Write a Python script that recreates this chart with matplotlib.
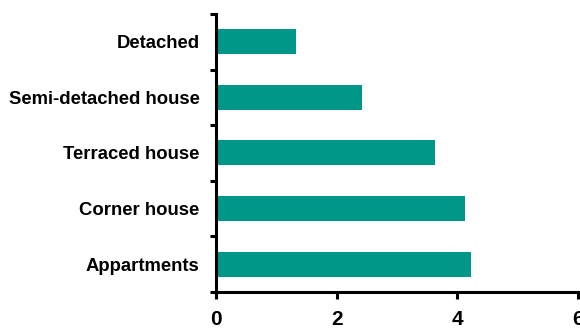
import numpy as np
import matplotlib.pyplot as plt

categories = ["Appartments", "Corner house", "Terraced house",
              "Semi-detached house", "Detached"]
values = [4.23, 4.13, 3.63, 2.42, 1.32]
x_ticks = [0, 2, 4, 6]

plt.rcParams['font.family'] = ['Liberation Sans', 'DejaVu Sans']
plt.rcParams['font.weight'] = 'bold'

fig = plt.figure(figsize=(5.8, 3.29), dpi=100)
ax = fig.add_axes([0.373, 0.1125, 0.6236, 0.845])

pos = np.arange(len(categories))
ax.barh(pos, values, height=0.45, color="#009688", zorder=2)

ax.set_xlim(0, 6)
ax.set_ylim(-0.5, len(categories) - 0.5)

# category labels at bar centres, tick marks between categories
ax.set_yticks(pos)
ax.set_yticklabels(categories, fontsize=13.3, fontweight='bold')
ax.set_yticks(np.arange(-0.5, len(categories), 1.0), minor=True)
ax.tick_params(axis='y', which='major', length=0, pad=12)
ax.tick_params(axis='y', which='minor', length=4, width=2.2, direction='out')

ax.set_xticks(x_ticks)
ax.set_xticklabels([str(t) for t in x_ticks], fontsize=15, fontweight='bold')
ax.tick_params(axis='x', length=5, width=2.2, direction='out', pad=8)

for side in ['top', 'right']:
    ax.spines[side].set_visible(False)
for side in ['left', 'bottom']:
    ax.spines[side].set_linewidth(2.2)

fig.savefig("out.png", dpi=100)
